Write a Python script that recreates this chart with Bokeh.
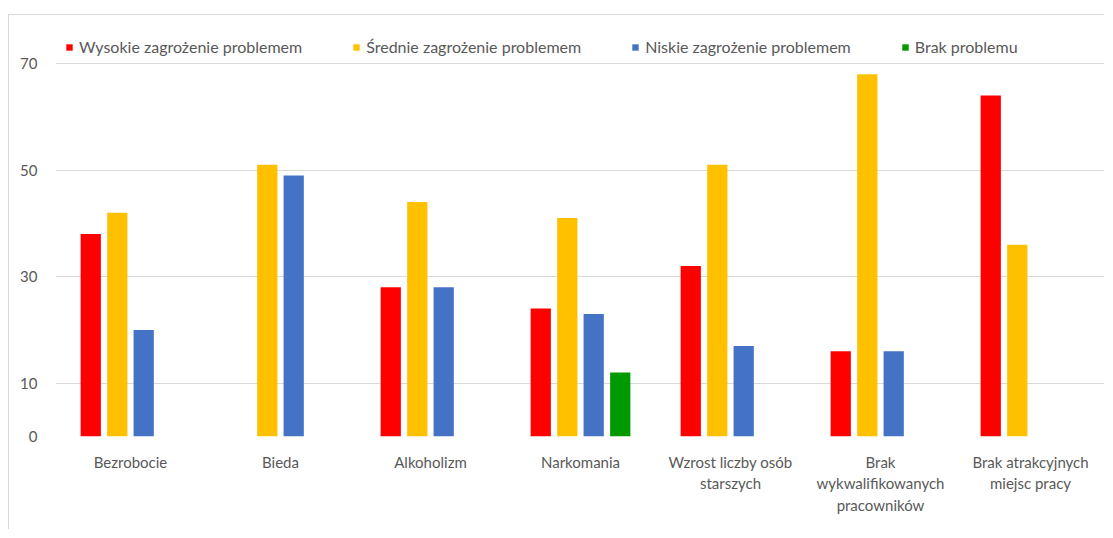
from bokeh.plotting import figure
from bokeh.models import Range1d, FixedTicker, Legend, LegendItem
from bokeh.transform import dodge
from bokeh.embed import file_html
from bokeh.resources import INLINE

categories = ["Bezrobocie", "Bieda", "Alkoholizm", "Narkomania",
              "Wzrost liczby osób\nstarszych",
              "Brak\nwykwalifikowanych\npracowników",
              "Brak atrakcyjnych\nmiejsc pracy"]
wysokie = [38, 0, 28, 24, 32, 16, 64]
srednie = [42, 51, 44, 41, 51, 68, 36]
niskie = [20, 49, 28, 23, 17, 16, 0]
brak = [0, 0, 0, 12, 0, 0, 0]
series_names = ["Wysokie zagrożenie problemem", "Średnie zagrożenie problemem",
                "Niskie zagrożenie problemem", "Brak problemu"]
colors = ["#ff0000", "#ffc000", "#4472c4", "#009a00"]
y_ticks = [0, 10, 30, 50, 70]

FONT = "Lato"
TXT = "#595959"

# figure placed at (9, 15) on the picture thanks to CSS margin + 1px border
p = figure(x_range=categories, y_range=Range1d(0, 76.57), width=1096, height=515,
           output_backend="svg", toolbar_location=None,
           min_border_left=46, min_border_right=0, min_border_top=13, min_border_bottom=94)
p.styles = {"margin-left": "8px", "margin-top": "14px",
            "border-top": "1px solid #d9d9d9", "border-left": "1px solid #d9d9d9"}
p.outline_line_color = None
p.background_fill_color = "white"
p.border_fill_color = "white"

data = dict(cat=categories, w=wysokie, s=srednie, n=niskie, b=brak)
offsets = [-0.265, -0.088, 0.088, 0.265]
keys = ["w", "s", "n", "b"]
items = []
for k, off, c, name in zip(keys, offsets, colors, series_names):
    r = p.vbar(x=dodge("cat", off, range=p.x_range), top=k, width=0.135, source=data,
               fill_color=c, line_color=None)
    items.append(LegendItem(label=name, renderers=[r]))

p.xgrid.grid_line_color = None
p.ygrid.grid_line_color = "#d9d9d9"
p.ygrid.ticker = FixedTicker(ticks=y_ticks)

p.yaxis.ticker = FixedTicker(ticks=y_ticks)
p.yaxis.axis_line_color = None
p.yaxis.major_tick_line_color = None
p.yaxis.minor_tick_line_color = None
p.yaxis.major_label_text_font = FONT
p.yaxis.major_label_text_font_size = "15px"
p.yaxis.major_label_text_color = TXT
p.yaxis.major_label_standoff = 12

p.xaxis.axis_line_color = None
p.xaxis.major_tick_line_color = None
p.xaxis.major_label_text_font = FONT
p.xaxis.major_label_text_font_size = "15px"
p.xaxis.major_label_text_color = TXT
p.xaxis.major_label_standoff = 10
p.x_range.range_padding = 0

legend = Legend(items=items, orientation="horizontal", location=(10, 380),
                label_text_font=FONT, label_text_font_size="16px", label_text_color=TXT,
                glyph_width=8, glyph_height=8, spacing=50, label_standoff=6,
                padding=0, margin=0, border_line_color=None, background_fill_alpha=0)
p.add_layout(legend)

open("out.html", "w").write(file_html(p, INLINE))
